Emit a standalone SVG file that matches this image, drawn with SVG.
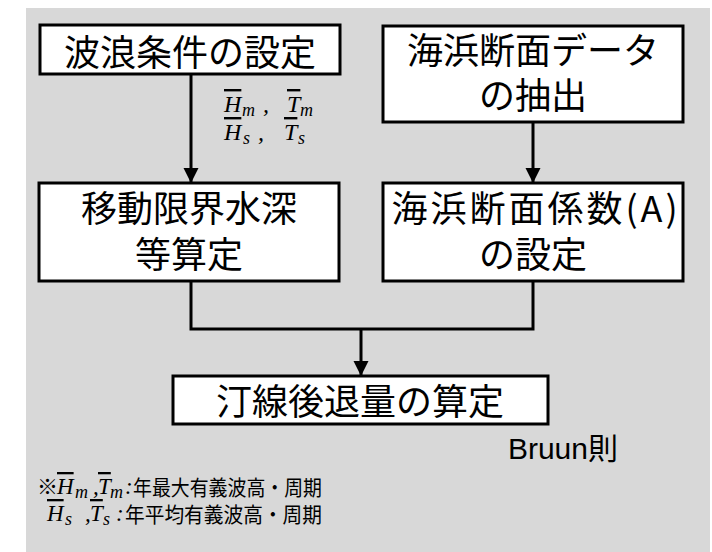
<svg xmlns="http://www.w3.org/2000/svg" width="712" height="552" viewBox="0 0 712 552">
<style>
.box{fill:#fff;stroke:#000;stroke-width:3}
.t{font-family:"Noto Sans CJK JP","Noto Sans CJK SC",sans-serif;font-size:36px;text-anchor:middle;fill:#000}
.c{fill:none;stroke:#000;stroke-width:3}
.m{font-family:"Liberation Serif","Noto Sans CJK JP",serif;font-style:italic;font-size:24px;fill:#000}
.n{font-family:"Liberation Serif","Noto Sans CJK JP",serif;font-style:italic;font-size:23px;fill:#000}
.sub{font-size:18px}
.ob{text-decoration:overline}
.j{font-family:"Noto Sans CJK JP",sans-serif;font-size:21px;fill:#000}
.br{font-family:"Liberation Sans","Noto Sans CJK JP",sans-serif;font-size:30px;fill:#000;text-anchor:end}
</style>
<defs>
<marker id="ah" markerUnits="userSpaceOnUse" markerWidth="16" markerHeight="16" refX="15" refY="7.5" orient="auto">
<path d="M0,0 L15,7.5 L0,15 Z" fill="#000"/>
</marker>
</defs>
<rect x="26" y="8" width="684" height="544" fill="#d8d8d8"/>
<g id="connectors">
<line class="c" x1="191" y1="74" x2="191" y2="183" marker-end="url(#ah)"/>
<line class="c" x1="533" y1="122" x2="533" y2="183" marker-end="url(#ah)"/>
<polyline class="c" points="191,281 191,329 533,329 533,281"/>
<line class="c" x1="361" y1="328" x2="361" y2="376" marker-end="url(#ah)"/>
</g>
<g id="n1">
<rect class="box" x="40" y="25" width="300" height="49"/>
<text class="t" x="190" y="66">波浪条件の設定</text>
</g>
<g id="n2">
<rect class="box" x="383" y="26" width="300" height="96"/>
<text class="t" y="64"><tspan x="533">海浜断面データ</tspan><tspan x="533" dy="45">の抽出</tspan></text>
</g>
<g id="n3">
<rect class="box" x="39" y="183" width="300" height="98"/>
<text class="t" y="222"><tspan x="189">移動限界水深</tspan><tspan x="189" dy="46">等算定</tspan></text>
</g>
<g id="n4">
<rect class="box" x="383" y="183" width="300" height="98"/>
<text class="t" y="222"><tspan x="536" letter-spacing="3">海浜断面係数(A)</tspan><tspan x="533" dy="46">の設定</tspan></text>
</g>
<g id="n5">
<rect class="box" x="173" y="376" width="375" height="48"/>
<text class="t" x="360" y="415">汀線後退量の算定</text>
</g>
<g id="label">
<text class="m" y="112"><tspan x="224" class="ob">H</tspan><tspan class="sub" x="242" dy="4">m</tspan><tspan x="263" dy="-4">,</tspan><tspan x="287" class="ob">T</tspan><tspan class="sub" x="300" dy="4">m</tspan></text>
<text class="m" y="140"><tspan x="224" class="ob">H</tspan><tspan class="sub" x="243" dy="4">s</tspan><tspan x="258" dy="-4">,</tspan><tspan x="284" class="ob">T</tspan><tspan class="sub" x="298" dy="4">s</tspan></text>
</g>
<text class="br" x="618" y="459">Bruun則</text>
<g id="notes">
<text class="j" x="37" y="494" font-size="19">※</text>
<text class="n" y="494"><tspan x="57" class="ob">H</tspan><tspan class="sub" x="75" dy="4">m</tspan><tspan x="93" dy="-4">,</tspan><tspan x="98" class="ob">T</tspan><tspan class="sub" x="110" dy="4">m</tspan><tspan x="125" dy="-4">:</tspan></text>
<text class="j" x="133" y="495" textLength="189" lengthAdjust="spacingAndGlyphs">年最大有義波高・周期</text>
<text class="n" y="521"><tspan x="47" class="ob">H</tspan><tspan class="sub" x="65" dy="4">s</tspan><tspan x="85" dy="-4">,</tspan><tspan x="90" class="ob">T</tspan><tspan class="sub" x="103" dy="4">s</tspan><tspan x="116" dy="-4">:</tspan></text>
<text class="j" x="125" y="522" textLength="197" lengthAdjust="spacingAndGlyphs">年平均有義波高・周期</text>
</g>
</svg>
